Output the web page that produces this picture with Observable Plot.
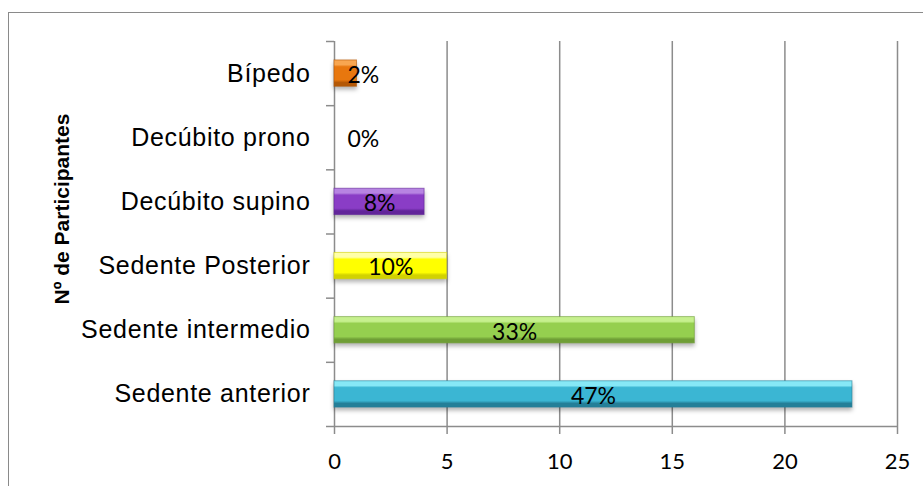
<!DOCTYPE html>
<html>
<head>
<meta charset="utf-8">
<script src="https://cdn.jsdelivr.net/npm/d3@7"></script>
<script src="https://cdn.jsdelivr.net/npm/@observablehq/plot@0.6"></script>
<style>
  body { margin: 0; background: #fff; }
  #chart { position: relative; width: 923px; height: 486px; overflow: hidden; background: #fff; }
  #border { position: absolute; left: 8px; top: 12px; width: 1000px; height: 600px; border: 1.5px solid #8a8a8a; pointer-events: none; }
  #chart svg.plot { position: absolute; left: 0; top: 0; }
  #ytitle { position: absolute; left: 62px; top: 209px; transform: translate(-50%, -50%) rotate(-90deg);
    font: bold 21px "Liberation Sans", Arial, sans-serif; white-space: nowrap; color: #000; z-index: 2; }
</style>
</head>
<body>
<div id="chart"><div id="border"></div><div id="ytitle">Nº de Participantes</div></div>
<script>
// Posture categories, listed top to bottom
const categories = ["Bípedo", "Decúbito prono", "Decúbito supino", "Sedente Posterior", "Sedente intermedio", "Sedente anterior"];
// Number of participants per posture
const participants = [1, 0, 4, 5, 16, 23];
// Bar colours: [light, base, dark]
const barColors = [
  ["#f8a650", "#e8770e", "#b45806"],
  ["#d8d8d8", "#c8c8c8", "#a0a0a0"],
  ["#b784e2", "#8a3dc6", "#62259a"],
  ["#ffffa8", "#ffff00", "#d2d200"],
  ["#c6f08e", "#95cf4f", "#6f9e36"],
  ["#86e8f6", "#3bb6d3", "#247f98"]
];
const xTicks = [0, 5, 10, 15, 20, 25];

const total = d3.sum(participants);
const rows = categories.map((c, i) => ({
  category: c,
  value: participants[i],
  pos: i + 0.5,
  pct: Math.round(participants[i] / total * 100) + "%"
}));

// Gradient definitions for the bevelled bars
const defs = d3.select("body").append("svg")
  .attr("width", 0).attr("height", 0).style("position", "absolute")
  .append("defs");
barColors.forEach(([light, base, dark], i) => {
  const g = defs.append("linearGradient")
    .attr("id", "bar" + i).attr("x1", 0).attr("y1", 0).attr("x2", 0).attr("y2", 1);
  g.append("stop").attr("offset", "0%").attr("stop-color", light);
  g.append("stop").attr("offset", "18%").attr("stop-color", light);
  g.append("stop").attr("offset", "26%").attr("stop-color", base);
  g.append("stop").attr("offset", "76%").attr("stop-color", base);
  g.append("stop").attr("offset", "86%").attr("stop-color", dark);
  g.append("stop").attr("offset", "100%").attr("stop-color", dark);
});

const grid = "#8c8c8c";

const chart = Plot.plot({
  width: 923,
  height: 486,
  marginLeft: 334,
  marginRight: 26,
  marginTop: 41,
  marginBottom: 60,
  x: { domain: [0, 25] },
  y: { domain: [0, 6], reverse: true },
  color: { domain: categories, range: categories.map((_, i) => `url(#bar${i})`) },
  style: { fontFamily: "Liberation Sans, Arial, sans-serif", background: "transparent", overflow: "visible" },
  marks: [
    // vertical gridlines
    Plot.ruleX(xTicks.slice(1), { y1: 0, y2: 6, stroke: grid, strokeWidth: 1.5 }),
    // axis lines
    Plot.ruleX([0], { y1: 0, y2: 6, stroke: grid, strokeWidth: 1.5 }),
    Plot.ruleY([6], { x1: 0, x2: 25, stroke: grid, strokeWidth: 1.5 }),
    // category boundary ticks
    Plot.axisY({ ticks: d3.range(7), tickSize: 8, tickFormat: () => "", stroke: grid, strokeWidth: 1.5, label: null }),
    // category labels
    Plot.axisY({ ticks: rows.map(d => d.pos), tickSize: 0, tickPadding: 24, tickFormat: v => categories[Math.floor(v)],
      fontSize: 25, fill: "#000", label: null }),
    // value axis
    Plot.axisX({ ticks: xTicks, tickSize: 8, tickPadding: 19, stroke: grid, strokeWidth: 1.5,
      fontSize: 22, fontFamily: "Lato, sans-serif", fill: "#000", label: null }),
    // bars
    Plot.rectX(rows, { x1: 0, x2: "value", y1: d => d.pos - 0.205, y2: d => d.pos + 0.205, fill: "category",
      stroke: (d, i) => barColors[i][2], strokeOpacity: 0.6, strokeWidth: 1 }),
    // percentage labels
    Plot.text(rows.filter(d => d.value >= 2), { x: d => d.value / 2, y: "pos", text: "pct", dy: 2,
      fontSize: 23, fontFamily: "Lato, sans-serif", fill: "#000" }),
    Plot.text(rows.filter(d => d.value < 2), { x: 0, y: "pos", text: "pct", textAnchor: "start", dx: 13, dy: 2,
      fontSize: 23, fontFamily: "Lato, sans-serif", fill: "#000" })
  ]
});

// soft shadow under the bars, slightly wider category labels
chart.querySelectorAll('g[aria-label="rect"]').forEach(g => {
  g.setAttribute("style", "filter: drop-shadow(0px 3px 2px rgba(0,0,0,0.3))");
});
chart.querySelectorAll('g[aria-label="y-axis tick label"]').forEach(g => {
  g.setAttribute("letter-spacing", "0.7");
});
document.getElementById("chart").appendChild(chart);
</script>
</body>
</html>
